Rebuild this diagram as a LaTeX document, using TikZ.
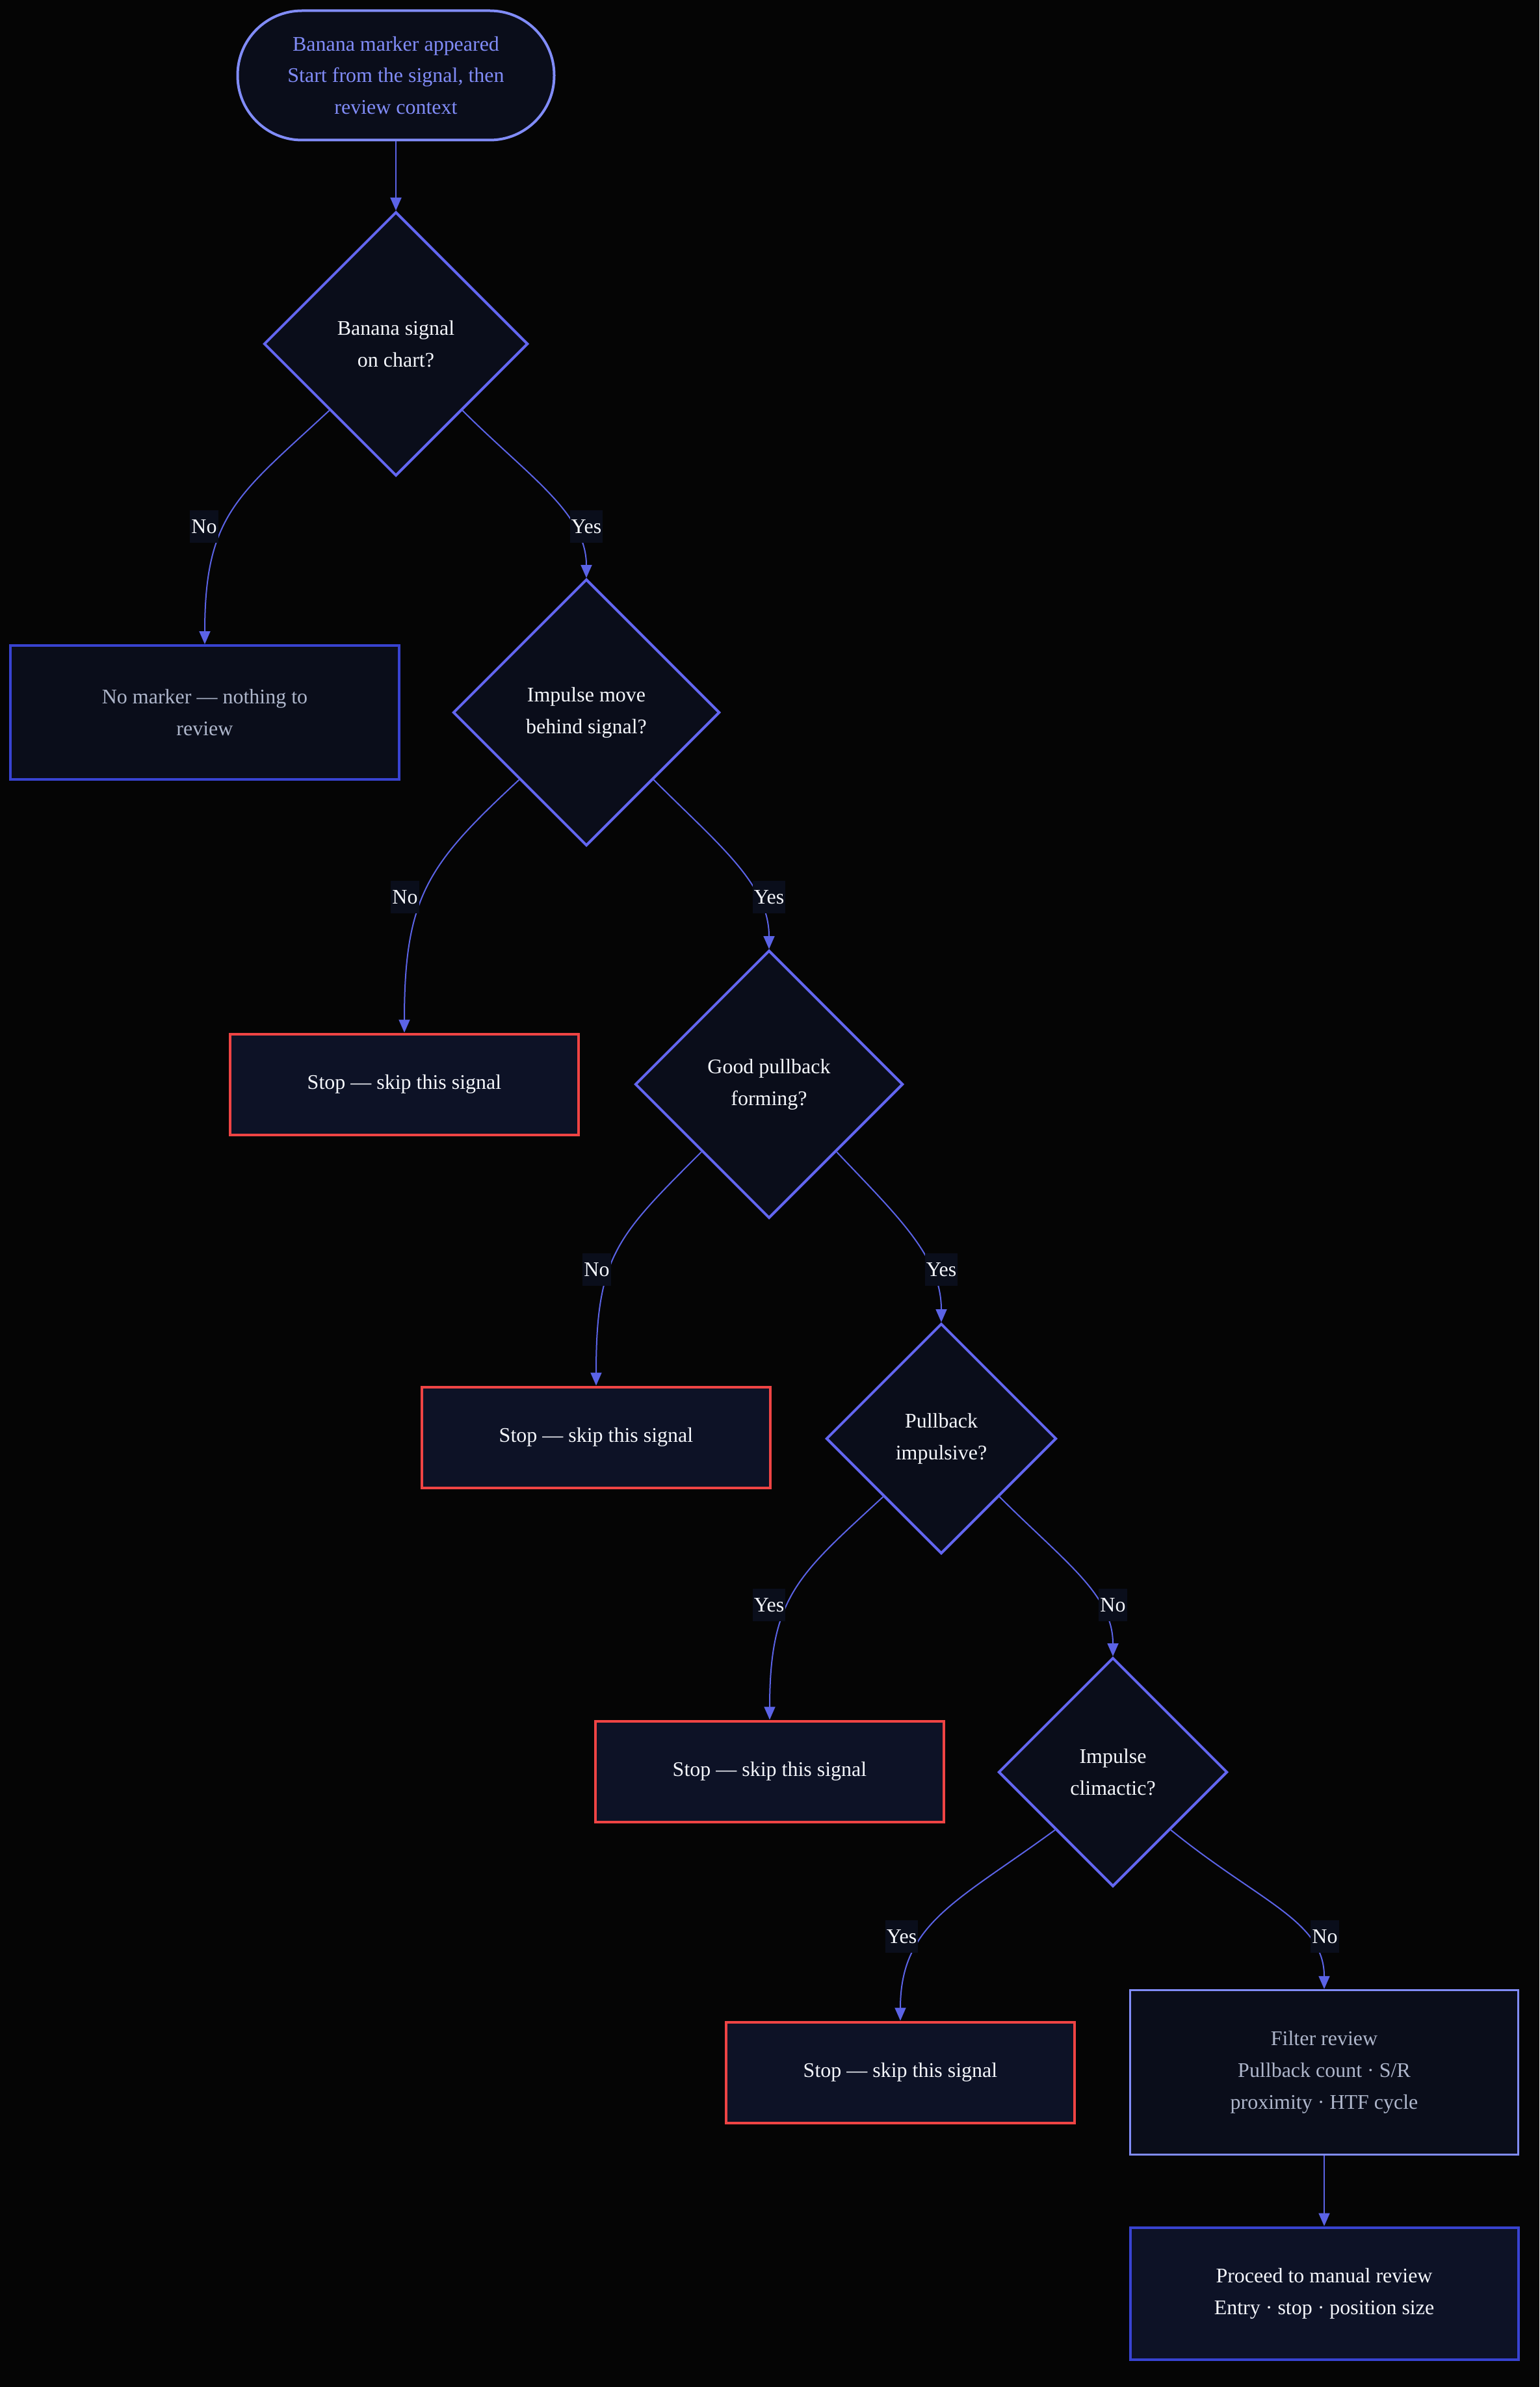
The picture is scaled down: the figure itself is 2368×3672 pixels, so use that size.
\documentclass[tikz,border=0pt]{standalone}
\usepackage{fontspec}
\setmainfont{Liberation Serif}
\usetikzlibrary{shapes.geometric,arrows.meta}
\definecolor{bgc}{HTML}{050505}
\definecolor{nodefill}{HTML}{0A0D1A}
\definecolor{stopfill}{HTML}{0D1226}
\definecolor{indlight}{HTML}{818CF8}
\definecolor{indmid}{HTML}{6366F1}
\definecolor{inddeep}{HTML}{3843D1}
\definecolor{edgec}{HTML}{5B63E6}
\definecolor{redc}{HTML}{EF4444}
\definecolor{greytxt}{HTML}{AEB6CB}
\definecolor{whitetxt}{HTML}{F4F6FB}
\definecolor{lblfill}{HTML}{0A0E1B}
\tikzset{
  basefont/.style={font=\fontsize{9.1pt}{13.9pt}\selectfont, align=center},
  startbox/.style={basefont, draw=indlight, line width=0.4mm, fill=nodefill, text=indlight,
     rectangle, rounded corners=9.9mm, minimum width=48.7mm, minimum height=19.9mm, inner sep=0},
  decision/.style={basefont, draw=indmid, line width=0.4mm, fill=nodefill, text=whitetxt,
     diamond, aspect=1, inner sep=0},
  stopbox/.style={basefont, draw=redc, line width=0.4mm, fill=stopfill, text=whitetxt,
     rectangle, minimum width=53.6mm, minimum height=15.5mm, inner sep=0},
  greybox/.style={basefont, draw=inddeep, line width=0.4mm, fill=nodefill, text=greytxt,
     rectangle, inner sep=0},
  filterbox/.style={basefont, draw=indlight, line width=0.35mm, fill=nodefill, text=greytxt,
     rectangle, inner sep=0},
  finalbox/.style={basefont, draw=inddeep, line width=0.4mm, fill=stopfill, text=whitetxt,
     rectangle, inner sep=0},
  edgelbl/.style={basefont, fill=lblfill, text=whitetxt, inner xsep=0.2mm, inner ysep=0,
     minimum height=5mm},
  flow/.style={draw=edgec, line width=0.2mm, -{Triangle[length=2mm,width=1.7mm]}},
}
\begin{document}
\begin{tikzpicture}[x=0.1mm, y=-0.1mm]
\fill[bgc] (0,0) rectangle (2368,3672);
\useasboundingbox (0,0) rectangle (2368,3672);

\node[startbox] (start) at (609,116) {Banana marker appeared\\Start from the signal, then\\review context};
\node[decision, minimum width=40.6mm, minimum height=40.6mm] (d1) at (609,529) {Banana signal\\on chart?};
\node[greybox, minimum width=59.8mm, minimum height=20.6mm] (nomark) at (315,1096) {No marker --- nothing to\\review};
\node[decision, minimum width=41mm, minimum height=41mm] (d2) at (902,1096) {Impulse move\\behind signal?};
\node[stopbox] (stop1) at (622,1668) {Stop --- skip this signal};
\node[decision, minimum width=41.2mm, minimum height=41.2mm] (d3) at (1183,1668) {Good pullback\\forming?};
\node[stopbox] (stop2) at (917,2211) {Stop --- skip this signal};
\node[decision, minimum width=35.4mm, minimum height=35.4mm] (d4) at (1448,2213) {Pullback\\impulsive?};
\node[stopbox] (stop3) at (1184,2725) {Stop --- skip this signal};
\node[decision, minimum width=35.2mm, minimum height=35.2mm] (d5) at (1712,2726) {Impulse\\climactic?};
\node[stopbox] (stop4) at (1385,3188) {Stop --- skip this signal};
\node[filterbox, minimum width=59.7mm, minimum height=25.3mm] (filter) at (2037,3188) {Filter review\\Pullback count · S/R\\proximity · HTF cycle};
\node[finalbox, minimum width=59.7mm, minimum height=20.3mm] (proceed) at (2037,3528) {Proceed to manual review\\Entry · stop · position size};

\draw[flow] (start) -- (d1);
\draw[flow] (d1.south west) .. controls +(-140,130) and +(0,-200) .. (nomark.north);
\draw[flow] (d1.south east) .. controls +(100,100) and +(0,-100) .. (d2.north);
\draw[flow] (d2.south west) .. controls +(-140,130) and +(0,-210) .. (stop1.north);
\draw[flow] (d2.south east) .. controls +(100,100) and +(0,-100) .. (d3.north);
\draw[flow] (d3.south west) .. controls +(-130,130) and +(0,-200) .. (stop2.north);
\draw[flow] (d3.south east) .. controls +(95,100) and +(0,-100) .. (d4.north);
\draw[flow] (d4.south west) .. controls +(-130,120) and +(0,-190) .. (stop3.north);
\draw[flow] (d4.south east) .. controls +(100,100) and +(0,-95) .. (d5.north);
\draw[flow] (d5.south west) .. controls +(-150,110) and +(0,-150) .. (stop4.north);
\draw[flow] (d5.south east) .. controls +(135,110) and +(0,-105) .. (filter.north);
\draw[flow] (filter) -- (proceed);

\node[edgelbl] (l1) at (314,810) {No};
\node[edgelbl] (l2) at (902,810) {Yes};
\node[edgelbl] (l3) at (623,1380) {No};
\node[edgelbl] (l4) at (1183,1380) {Yes};
\node[edgelbl] (l5) at (918,1953) {No};
\node[edgelbl] (l6) at (1448,1953) {Yes};
\node[edgelbl] (l7) at (1183,2469) {Yes};
\node[edgelbl] (l8) at (1712,2469) {No};
\node[edgelbl] (l9) at (1387,2979) {Yes};
\node[edgelbl] (l10) at (2038,2979) {No};
\end{tikzpicture}
\end{document}
